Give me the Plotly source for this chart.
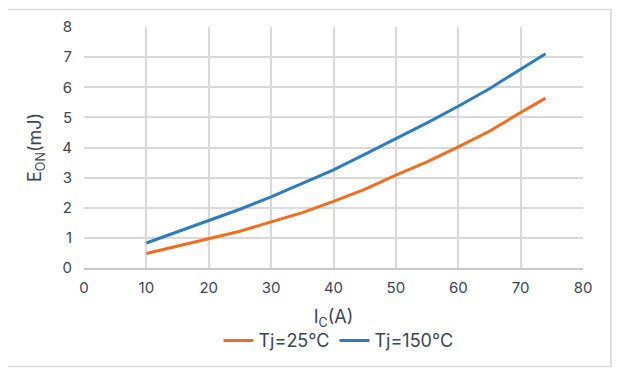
import plotly.graph_objects as go

ic = [10, 15, 20, 25, 30, 35, 40, 45, 50, 55, 60, 65, 70, 74]
eon_25 = [0.48, 0.72, 0.97, 1.22, 1.53, 1.84, 2.21, 2.61, 3.08, 3.52, 4.02, 4.54, 5.16, 5.64]
eon_150 = [0.83, 1.21, 1.58, 1.95, 2.36, 2.80, 3.26, 3.77, 4.29, 4.82, 5.37, 5.95, 6.60, 7.11]

x_ticks = [0, 10, 20, 30, 40, 50, 60, 70, 80]
y_ticks = [0, 1, 2, 3, 4, 5, 6, 7, 8]

text_color = "#3b4656"
grid_color = "#d9d9d9"

fig = go.Figure()
fig.add_trace(go.Scatter(x=ic, y=eon_25, mode="lines", name="Tj=25°C",
                         line=dict(color="#f26d1f", width=3)))
fig.add_trace(go.Scatter(x=ic, y=eon_150, mode="lines", name="Tj=150°C",
                         line=dict(color="#2f7bc0", width=3)))

# page body adds an 8px offset, so the figure is 8px smaller and shifted margins
fig.update_layout(
    width=612, height=366,
    margin=dict(l=76, r=37, t=19, b=106, autoexpand=False),
    paper_bgcolor="white", plot_bgcolor="white",
    font=dict(family="Inter", color=text_color, size=14),
    showlegend=True,
    legend=dict(orientation="h", x=0.51, xanchor="center", y=-0.225, yanchor="top",
                font=dict(size=18, color=text_color), itemwidth=30,
                bgcolor="rgba(0,0,0,0)"),
    shapes=[dict(type="rect", xref="paper", yref="paper",
                 x0=-0.154, x1=1.056, y0=-0.409, y1=1.073,
                 line=dict(color="#d9d9d9", width=1.5), layer="below")],
)
fig.update_xaxes(range=[0, 80], tickvals=x_ticks, showgrid=True, gridcolor=grid_color,
                 gridwidth=1.5, zeroline=False, showline=True, linecolor="#c8c8c8",
                 linewidth=1.5, ticks="outside", ticklen=5, tickcolor="rgba(0,0,0,0)",
                 tickfont=dict(size=15, color=text_color), automargin=False,
                 title=dict(text="I<sub>C</sub>(A)", font=dict(size=18, color=text_color)),
                 mirror=False)
fig.update_yaxes(range=[0, 8], tickvals=y_ticks, showgrid=True, gridcolor=grid_color,
                 gridwidth=1.5, zeroline=False, showline=False,
                 ticks="outside", ticklen=8, tickcolor="rgba(0,0,0,0)",
                 tickfont=dict(size=15, color=text_color), automargin=False,
                 title=dict(text="E<sub>ON</sub>(mJ)", font=dict(size=18, color=text_color)))

fig.write_html("out.html")
